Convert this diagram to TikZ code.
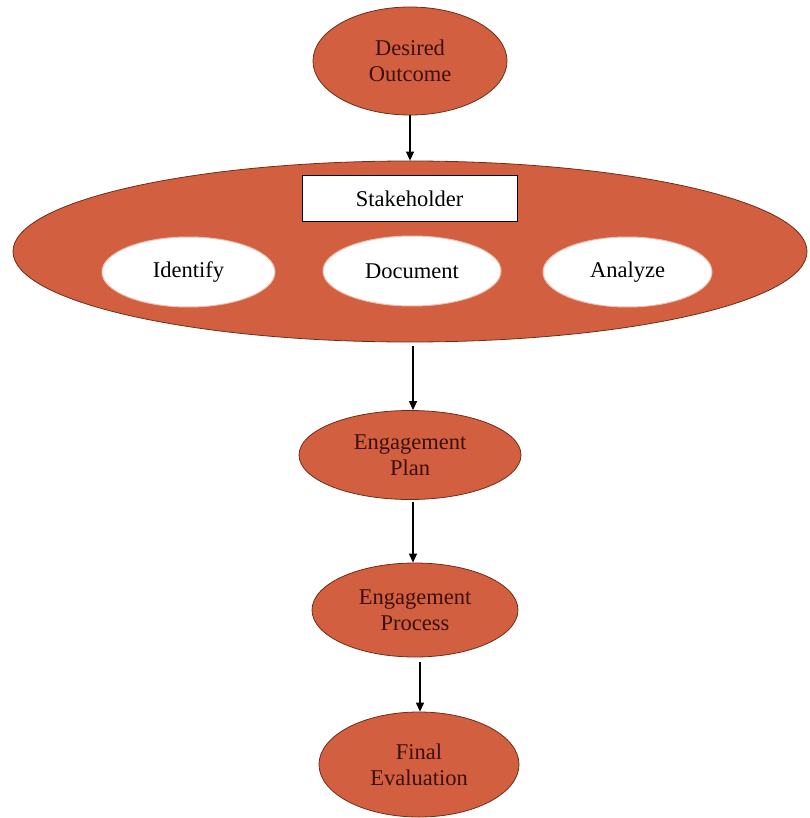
\documentclass[tikz,border=0pt]{standalone}
\usepackage{fontspec}
\setmainfont{Liberation Serif}
\usetikzlibrary{shapes.geometric,arrows.meta}
\definecolor{orng}{RGB}{210,96,64}
\definecolor{edge}{RGB}{110,45,25}
\definecolor{txt}{RGB}{60,14,12}
\tikzset{
  oval/.style={ellipse,draw=edge,line width=0.8pt,fill=orng,inner sep=0pt,align=center,text=txt,font=\fontsize{22.5}{26}\selectfont},
  wov/.style={ellipse,fill=white,draw=orng!40,line width=1pt,inner sep=0pt,align=center,text=black,font=\fontsize{22.5}{26}\selectfont},
  sbox/.style={rectangle,draw=black,line width=1pt,fill=white,inner sep=0pt,font=\fontsize{22.5}{26}\selectfont},
  arr/.style={line width=1.2pt,-{Triangle[width=8pt,length=9pt]}}
}
\begin{document}
\begin{tikzpicture}[x=1pt,y=-1pt]
\useasboundingbox (0,0) rectangle (809,818);
\node[oval,minimum width=194pt,minimum height=108pt] (des) at (410,61) {Desired\\Outcome};
\node[oval,minimum width=794pt,minimum height=181pt] (big) at (410,251.5) {};
\node[sbox,minimum width=215pt,minimum height=46pt] (stk) at (409.5,199) {Stakeholder};
\node[wov,minimum width=173pt,minimum height=70pt] (idf) at (188.5,272) {Identify};
\node[wov,minimum width=178pt,minimum height=70pt] (doc) at (412,271) {Document};
\node[wov,minimum width=169pt,minimum height=70pt] (ana) at (627.5,272) {Analyze};
\node[oval,minimum width=222pt,minimum height=89pt] (plan) at (410,455) {Engagement\\Plan};
\node[oval,minimum width=206pt,minimum height=94pt] (proc) at (415,610) {Engagement\\Process};
\node[oval,minimum width=200pt,minimum height=105pt] (fin) at (419,764.5) {Final\\Evaluation};
\draw[arr] (des.south) -- (big.north);
\draw[arr] ([xshift=3pt,yshift=-4pt]big.south) -- ([xshift=3pt]plan.north);
\draw[arr] ([xshift=3pt,yshift=-2pt]plan.south) -- ([xshift=-2pt]proc.north);
\draw[arr] ([xshift=5pt,yshift=-5pt]proc.south) -- ([xshift=1pt]fin.north);
\end{tikzpicture}
\end{document}
